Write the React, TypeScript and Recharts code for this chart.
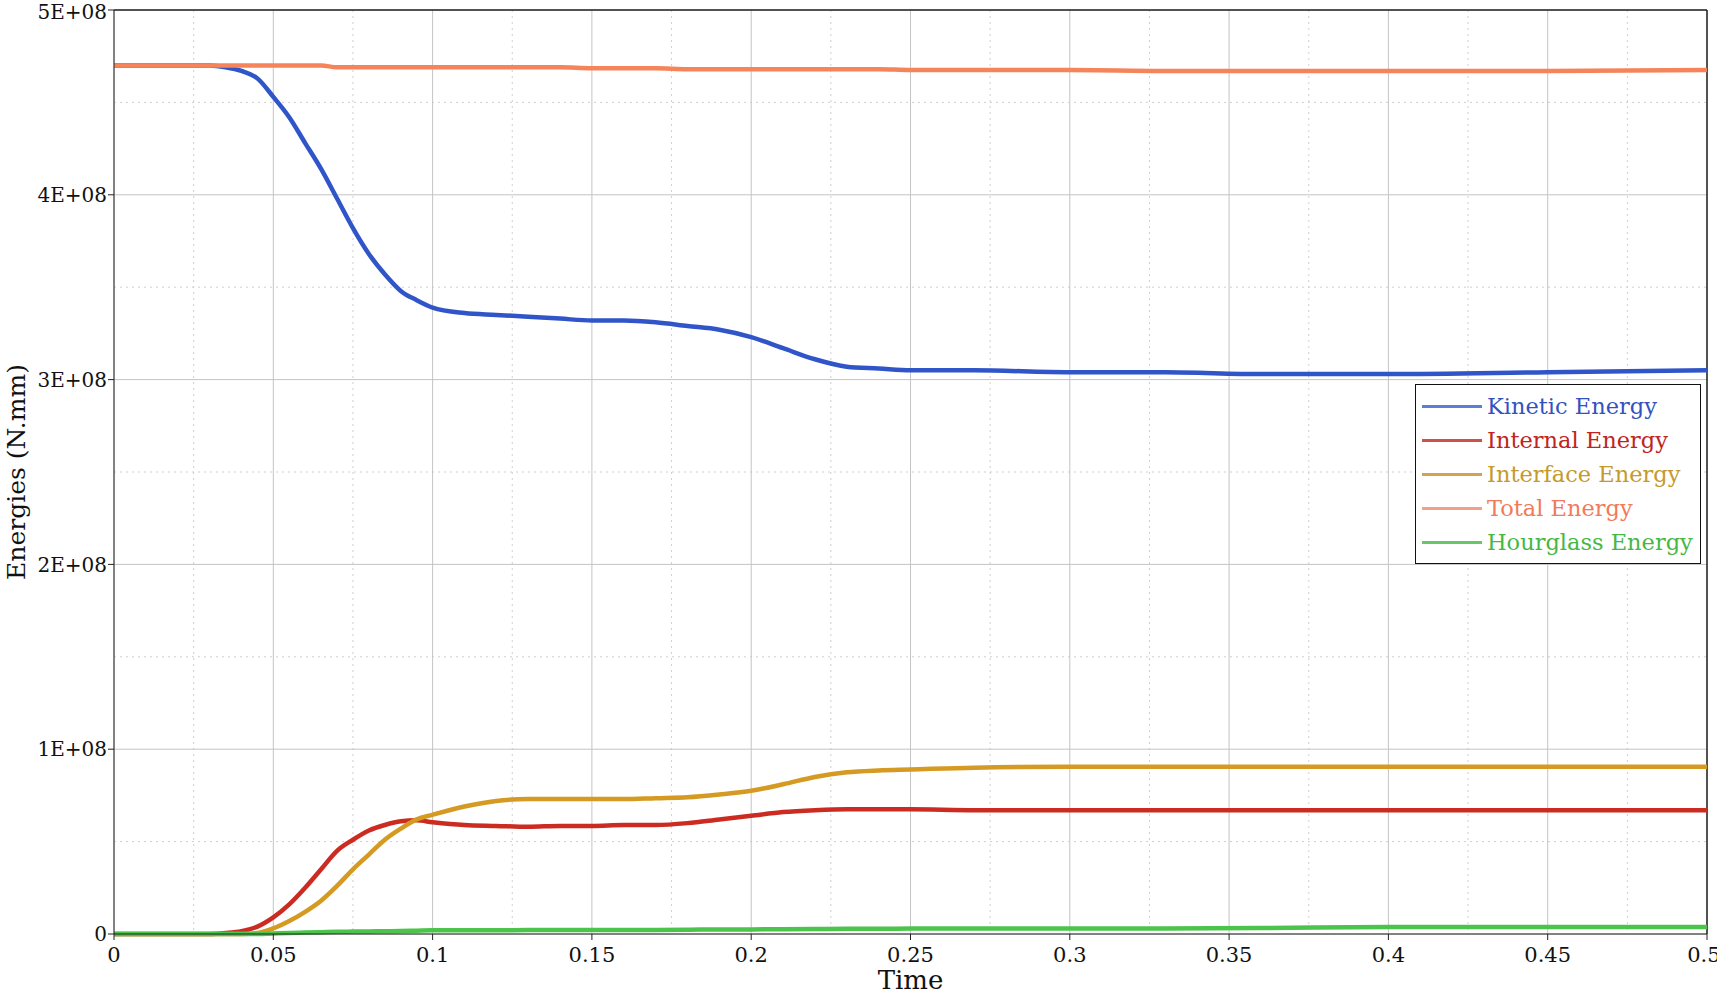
import React from "react";
import {
  LineChart, Line, XAxis, YAxis, CartesianGrid, ReferenceLine,
} from "recharts";

const FONT = "'DejaVu Serif', serif";

// time samples (s)
const time = [
  0, 0.01, 0.02, 0.03, 0.035, 0.04, 0.045, 0.05, 0.055, 0.06, 0.065, 0.07, 0.075, 0.08,
  0.085, 0.09, 0.095, 0.1, 0.11, 0.12, 0.13, 0.14, 0.15, 0.16, 0.17, 0.18, 0.19, 0.2,
  0.21, 0.22, 0.23, 0.24, 0.25, 0.27, 0.3, 0.33, 0.36, 0.4, 0.45, 0.5,
];

// energies in units of 1E+08 N.mm
const kinetic = [
  4.7, 4.7, 4.7, 4.7, 4.69, 4.67, 4.63, 4.53, 4.42, 4.28, 4.14, 3.98, 3.82, 3.68,
  3.57, 3.48, 3.43, 3.39, 3.36, 3.35, 3.34, 3.33, 3.32, 3.32, 3.31, 3.29, 3.27, 3.23,
  3.17, 3.11, 3.07, 3.06, 3.05, 3.05, 3.04, 3.04, 3.03, 3.03, 3.04, 3.05,
];
const internal = [
  0, 0, 0, 0, 0.005, 0.015, 0.04, 0.09, 0.16, 0.25, 0.35, 0.45, 0.51, 0.56,
  0.59, 0.61, 0.615, 0.605, 0.59, 0.585, 0.58, 0.585, 0.585, 0.59, 0.59, 0.6, 0.62, 0.64,
  0.66, 0.67, 0.675, 0.675, 0.675, 0.67, 0.67, 0.67, 0.67, 0.67, 0.67, 0.67,
];
const interfaceE = [
  0, 0, 0, 0, 0, 0, 0.005, 0.03, 0.07, 0.12, 0.18, 0.26, 0.35, 0.43,
  0.51, 0.57, 0.62, 0.645, 0.69, 0.72, 0.73, 0.73, 0.73, 0.73, 0.735, 0.74, 0.755, 0.775,
  0.81, 0.85, 0.875, 0.885, 0.89, 0.9, 0.905, 0.905, 0.905, 0.905, 0.905, 0.905,
];
const total = [
  4.7, 4.7, 4.7, 4.7, 4.7, 4.7, 4.7, 4.7, 4.7, 4.7, 4.7, 4.69, 4.69, 4.69,
  4.69, 4.69, 4.69, 4.69, 4.69, 4.69, 4.69, 4.69, 4.685, 4.685, 4.685, 4.68, 4.68, 4.68,
  4.68, 4.68, 4.68, 4.68, 4.675, 4.675, 4.675, 4.67, 4.67, 4.67, 4.67, 4.675,
];
const hourglass = [
  0, 0, 0, 0, 0, 0, 0, 0.003, 0.006, 0.008, 0.01, 0.012, 0.013, 0.014,
  0.015, 0.016, 0.018, 0.02, 0.02, 0.02, 0.021, 0.021, 0.022, 0.022, 0.022, 0.023, 0.025, 0.025,
  0.026, 0.027, 0.028, 0.028, 0.03, 0.03, 0.03, 0.03, 0.032, 0.038, 0.038, 0.038,
];

const xTicks = [0, 0.05, 0.1, 0.15, 0.2, 0.25, 0.3, 0.35, 0.4, 0.45, 0.5];
const xMinor = [0.025, 0.075, 0.125, 0.175, 0.225, 0.275, 0.325, 0.375, 0.425, 0.475];
const yTicks = [0, 1e8, 2e8, 3e8, 4e8, 5e8];
const yMinor = [0.5e8, 1.5e8, 2.5e8, 3.5e8, 4.5e8];

const series = [
  { key: "kinetic", name: "Kinetic Energy", color: "#2f55c9", text: "#3352bf", legend: "#5b7fd8" },
  { key: "internal", name: "Internal Energy", color: "#cc2b22", text: "#c0241c", legend: "#d0514a" },
  { key: "interfaceE", name: "Interface Energy", color: "#d49a22", text: "#c49a2c", legend: "#d0a450" },
  { key: "total", name: "Total Energy", color: "#f5845a", text: "#f07a5a", legend: "#f3a08a" },
  { key: "hourglass", name: "Hourglass Energy", color: "#4cc44c", text: "#45b845", legend: "#68c868" },
];

const data = time.map((t, i) => ({
  t,
  kinetic: kinetic[i] * 1e8,
  internal: internal[i] * 1e8,
  interfaceE: interfaceE[i] * 1e8,
  total: total[i] * 1e8,
  hourglass: hourglass[i] * 1e8,
}));

const fmtY = (v: number) => (v === 0 ? "0" : `${Math.round(v / 1e8)}E+08`);

// legend drawn as an overlay so it doesn't shrink the plot area
function EnergyLegend() {
  return (
    <div
      style={{
        position: "absolute", left: 1415, top: 384, width: 286, height: 180,
        border: "1.5px solid #111", background: "#fff", padding: "4px 6px", boxSizing: "border-box",
        fontFamily: FONT,
      }}
    >
      {series.map((s) => (
        <div key={s.key} style={{ display: "flex", alignItems: "center", height: 34 }}>
          <div style={{ width: 60, height: 3, background: s.legend, marginRight: 5 }} />
          <span style={{ color: s.text, fontSize: 22.5, whiteSpace: "nowrap" }}>{s.name}</span>
        </div>
      ))}
    </div>
  );
}

export default function App() {
  return (
    <div style={{ position: "absolute", left: 0, top: 0, width: 1717, height: 995, background: "#fff" }}>
      <LineChart width={1717} height={995} data={data} margin={{ top: 10, right: 10, left: 0, bottom: 0 }}>
        <CartesianGrid
          stroke="#cfcfcf"
          strokeDasharray="2 4"
          horizontalValues={yMinor}
          verticalValues={xMinor}
        />
        <CartesianGrid stroke="#c4c4c4" horizontalValues={yTicks} verticalValues={xTicks} />
        <XAxis
          dataKey="t"
          type="number"
          domain={[0, 0.5]}
          ticks={xTicks}
          tickFormatter={(v: number) => String(v)}
          height={61}
          tickSize={6}
          tickMargin={7}
          stroke="#222"
          tick={{ fill: "#111", fontSize: 21, fontFamily: FONT }}
          label={{ value: "Time", position: "insideBottom", offset: 6, fill: "#111", fontSize: 26, fontFamily: FONT }}
        />
        <YAxis
          type="number"
          domain={[0, 5e8]}
          ticks={yTicks}
          tickFormatter={fmtY}
          width={114}
          tickSize={6}
          tickMargin={1}
          stroke="#222"
          tick={{ fill: "#111", fontSize: 20, fontFamily: FONT }}
          label={{ value: "Energies (N.mm)", angle: -90, position: "insideLeft", offset: 16, fill: "#111", fontSize: 25, fontFamily: FONT, style: { textAnchor: "middle" } }}
        />
        <ReferenceLine y={5e8} stroke="#222" strokeWidth={1.5} />
        <ReferenceLine x={0.5} stroke="#222" strokeWidth={1.5} />
        {series.map((s) => (
          <Line
            key={s.key}
            type="monotone"
            dataKey={s.key}
            name={s.name}
            stroke={s.color}
            strokeWidth={4.5}
            dot={false}
            isAnimationActive={false}
          />
        ))}
      </LineChart>
      <EnergyLegend />
    </div>
  );
}
